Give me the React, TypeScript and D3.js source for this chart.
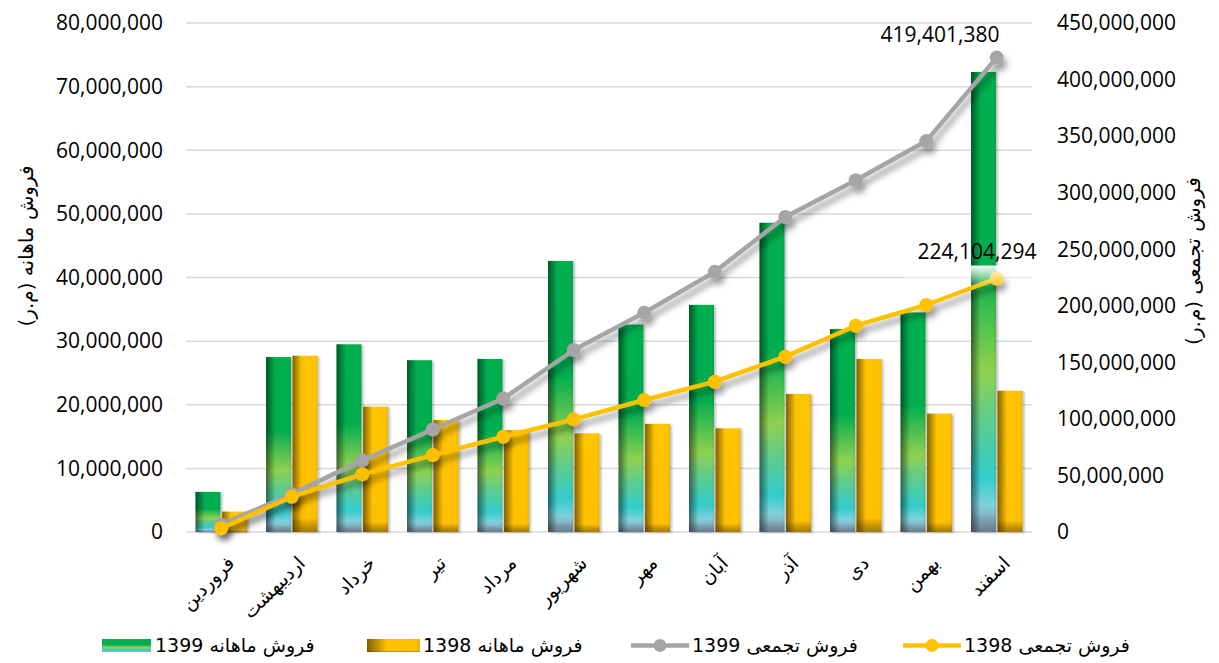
import * as d3 from 'd3';

const months = ['فروردین', 'اردیبهشت', 'خرداد', 'تیر', 'مرداد', 'شهریور', 'مهر', 'آبان', 'آذر', 'دی', 'بهمن', 'اسفند'];
const monthly1399 = [6300000, 27500000, 29500000, 27000000, 27200000, 42600000, 32600000, 35700000, 48600000, 31900000, 34500000, 72300000];
const monthly1398 = [3200000, 27700000, 19700000, 17600000, 16000000, 15500000, 17000000, 16300000, 21700000, 27200000, 18600000, 22200000];
const cumulative1399 = [6500000, 33500000, 63300000, 90600000, 118000000, 160900000, 193900000, 230000000, 278500000, 311000000, 345600000, 419401380];
const cumulative1398 = [3300000, 31200000, 51000000, 68000000, 84200000, 99600000, 116700000, 132900000, 155000000, 182400000, 200700000, 224104294];
const seriesNames = ['فروش ماهانه 1399', 'فروش ماهانه 1398', 'فروش تجمعی 1399', 'فروش تجمعی 1398'];

const W = 1219;
const H = 663;
const num = "'Open Sans', sans-serif";
const fa = "'DejaVu Sans', sans-serif";

export default function App() {
  const x = d3.scaleBand<string>().domain(months).range([186, 1032]).paddingInner(0.27).paddingOuter(0.135);
  const inner = d3.scaleBand<string>().domain(['a', 'b']).range([0, x.bandwidth()]).paddingInner(0.06);
  const yL = d3.scaleLinear().domain([0, 80000000]).range([532, 23]);
  const yR = d3.scaleLinear().domain([0, 450000000]).range([532, 23]);
  const fmt = d3.format(',');
  const cx = (m: string) => (x(m) as number) + x.bandwidth() / 2;

  const line = (vals: number[]) =>
    d3
      .line<number>()
      .x((_, i) => cx(months[i]))
      .y((v) => yR(v))(vals) as string;

  // each bar = base fill + left-edge shade + bottom shade
  const bars = (vals: number[], key: string, fill: string, shade: string, bottom: string) =>
    vals.map((v, i) => {
      const bx = (x(months[i]) as number) + (inner(key) as number);
      const by = yL(v);
      const bh = yL(0) - by;
      const bw = inner.bandwidth();
      return (
        <g key={key + i} filter="url(#barShadow)">
          <rect x={bx} y={by} width={bw} height={bh} fill={fill} />
          <rect x={bx} y={by} width={bw} height={bh} fill={shade} />
          <rect x={bx} y={by} width={bw} height={bh} fill={bottom} />
        </g>
      );
    });

  const legendItems = [
    { sx: 102, tx: 155, kind: 'green' },
    { sx: 367, tx: 423, kind: 'gold' },
    { sx: 631, tx: 692, kind: 'gray' },
    { sx: 903, tx: 964, kind: 'yellow' },
  ];

  return (
    <div style={{ position: 'fixed', left: 0, top: 0, width: W, height: H, background: '#fff' }}>
      <svg width={W} height={H}>
        <defs>
          <linearGradient id="greenV" x1="0" y1="0" x2="0" y2="1">
            <stop offset="0" stopColor="#00b050" />
            <stop offset="0.42" stopColor="#00ad4f" />
            <stop offset="0.65" stopColor="#8fd14f" />
            <stop offset="0.76" stopColor="#5ccc8f" />
            <stop offset="0.88" stopColor="#33cccc" />
            <stop offset="0.96" stopColor="#93d4e2" />
            <stop offset="1" stopColor="#8aa4b4" />
          </linearGradient>
          <linearGradient id="goldV" x1="0" y1="0" x2="0" y2="1">
            <stop offset="0" stopColor="#ffc400" />
            <stop offset="1" stopColor="#ffbf00" />
          </linearGradient>
          <linearGradient id="sideShade" x1="0" y1="0" x2="1" y2="0">
            <stop offset="0" stopColor="#000" stopOpacity="0.5" />
            <stop offset="0.38" stopColor="#000" stopOpacity="0" />
            <stop offset="0.9" stopColor="#000" stopOpacity="0" />
            <stop offset="1" stopColor="#000" stopOpacity="0.08" />
          </linearGradient>
          <linearGradient id="bottomShade" x1="0" y1="0" x2="0" y2="1">
            <stop offset="0" stopColor="#000" stopOpacity="0" />
            <stop offset="0.92" stopColor="#000" stopOpacity="0" />
            <stop offset="1" stopColor="#3a2a00" stopOpacity="0.45" />
          </linearGradient>
          <linearGradient id="bottomShadeG" x1="0" y1="0" x2="0" y2="1">
            <stop offset="0" stopColor="#000" stopOpacity="0" />
            <stop offset="0.94" stopColor="#000" stopOpacity="0" />
            <stop offset="1" stopColor="#334" stopOpacity="0.35" />
          </linearGradient>
          <linearGradient id="fadeWhite" x1="0" y1="0" x2="0" y2="1">
            <stop offset="0" stopColor="#fff" stopOpacity="0.95" />
            <stop offset="0.3" stopColor="#fff" stopOpacity="0.7" />
            <stop offset="1" stopColor="#fff" stopOpacity="0" />
          </linearGradient>
          <filter id="lineShadow" x="-5%" y="-10%" width="115%" height="130%">
            <feDropShadow dx="3" dy="6" stdDeviation="3" floodColor="#000" floodOpacity="0.4" />
          </filter>
          <filter id="barShadow" x="-20%" y="-5%" width="150%" height="110%">
            <feDropShadow dx="2" dy="1" stdDeviation="1.2" floodColor="#000" floodOpacity="0.25" />
          </filter>
        </defs>

        {/* gridlines */}
        {yL.ticks(8).map((t) => (
          <line key={'g' + t} x1={186} x2={1032} y1={yL(t)} y2={yL(t)} stroke="#d9d9d9" strokeWidth={1.5} />
        ))}

        {/* left axis */}
        {yL.ticks(8).map((t) => (
          <text key={'l' + t} x={163} y={yL(t)} dy="0.35em" textAnchor="end" fontFamily={num} fontSize={21} fill="#000">
            {fmt(t)}
          </text>
        ))}
        {/* right axis */}
        {yR.ticks(9).map((t) => (
          <text key={'r' + t} x={1057} y={yR(t)} dy="0.35em" textAnchor="start" fontFamily={num} fontSize={21} fill="#000">
            {fmt(t)}
          </text>
        ))}

        <text transform="translate(33,246) rotate(-90)" textAnchor="middle" fontFamily={fa} fontSize={20} fill="#000">
          فروش ماهانه (م.ر)
        </text>
        <text transform="translate(1200,261) rotate(-90)" textAnchor="middle" fontFamily={fa} fontSize={20} fill="#000">
          فروش تجمعی (م.ر)
        </text>

        {/* bars */}
        {bars(monthly1399, 'a', 'url(#greenV)', 'url(#sideShade)', 'url(#bottomShadeG)')}
        {bars(monthly1398, 'b', 'url(#goldV)', 'url(#sideShade)', 'url(#bottomShade)')}

        {/* cumulative lines */}
        <g filter="url(#lineShadow)">
          <path d={line(cumulative1399)} fill="none" stroke="#a5a5a5" strokeWidth={4.5} strokeLinejoin="round" />
          {cumulative1399.map((v, i) => (
            <circle key={'c9' + i} cx={cx(months[i])} cy={yR(v)} r={7} fill="#a5a5a5" />
          ))}
        </g>
        <g filter="url(#lineShadow)">
          <path d={line(cumulative1398)} fill="none" stroke="#ffc000" strokeWidth={4.5} strokeLinejoin="round" />
          {cumulative1398.map((v, i) => (
            <circle key={'c8' + i} cx={cx(months[i])} cy={yR(v)} r={7} fill="#ffc000" />
          ))}
        </g>

        {/* data labels */}
        <text x={940} y={yR(419401380) - 16} textAnchor="middle" fontFamily={num} fontSize={21} fill="#000">
          {fmt(419401380)}
        </text>
        <rect x={905} y={yR(224104294) - 13} width={135} height={22} fill="url(#fadeWhite)" />
        <text x={977} y={yR(224104294) - 20} textAnchor="middle" fontFamily={num} fontSize={21} fill="#000">
          {fmt(224104294)}
        </text>

        {/* x labels */}
        {months.map((m) => (
          <text
            key={'x' + m}
            transform={`translate(${cx(m) + 5},${555}) rotate(-45)`}
            textAnchor="end"
            dy="0.7em"
            fontFamily={fa}
            fontSize={19}
            fill="#000"
          >
            {m}
          </text>
        ))}

        {/* legend */}
        {legendItems.map((it, i) => (
          <g key={'lg' + i}>
            {it.kind === 'green' && (
              <g>
                <rect x={it.sx} y={639} width={49} height={13} fill="url(#greenV)" />
                <rect x={it.sx} y={639} width={49} height={13} fill="url(#bottomShadeG)" />
              </g>
            )}
            {it.kind === 'gold' && (
              <g>
                <rect x={it.sx} y={639} width={53} height={13} fill="#ffc000" />
                <rect x={it.sx} y={639} width={53} height={13} fill="url(#sideShade)" />
                <rect x={it.sx} y={639} width={53} height={13} fill="url(#bottomShade)" />
              </g>
            )}
            {(it.kind === 'gray' || it.kind === 'yellow') && (
              <g>
                <line x1={it.sx} x2={it.sx + 58} y1={645.5} y2={645.5} stroke={it.kind === 'gray' ? '#a5a5a5' : '#ffc000'} strokeWidth={4.5} />
                <circle cx={it.sx + 29} cy={645.5} r={6.5} fill={it.kind === 'gray' ? '#a5a5a5' : '#ffc000'} />
              </g>
            )}
            <text x={it.tx} y={645.5} dy="0.35em" fontFamily={fa} fontSize={19} fill="#000">
              {seriesNames[i]}
            </text>
          </g>
        ))}
      </svg>
    </div>
  );
}
